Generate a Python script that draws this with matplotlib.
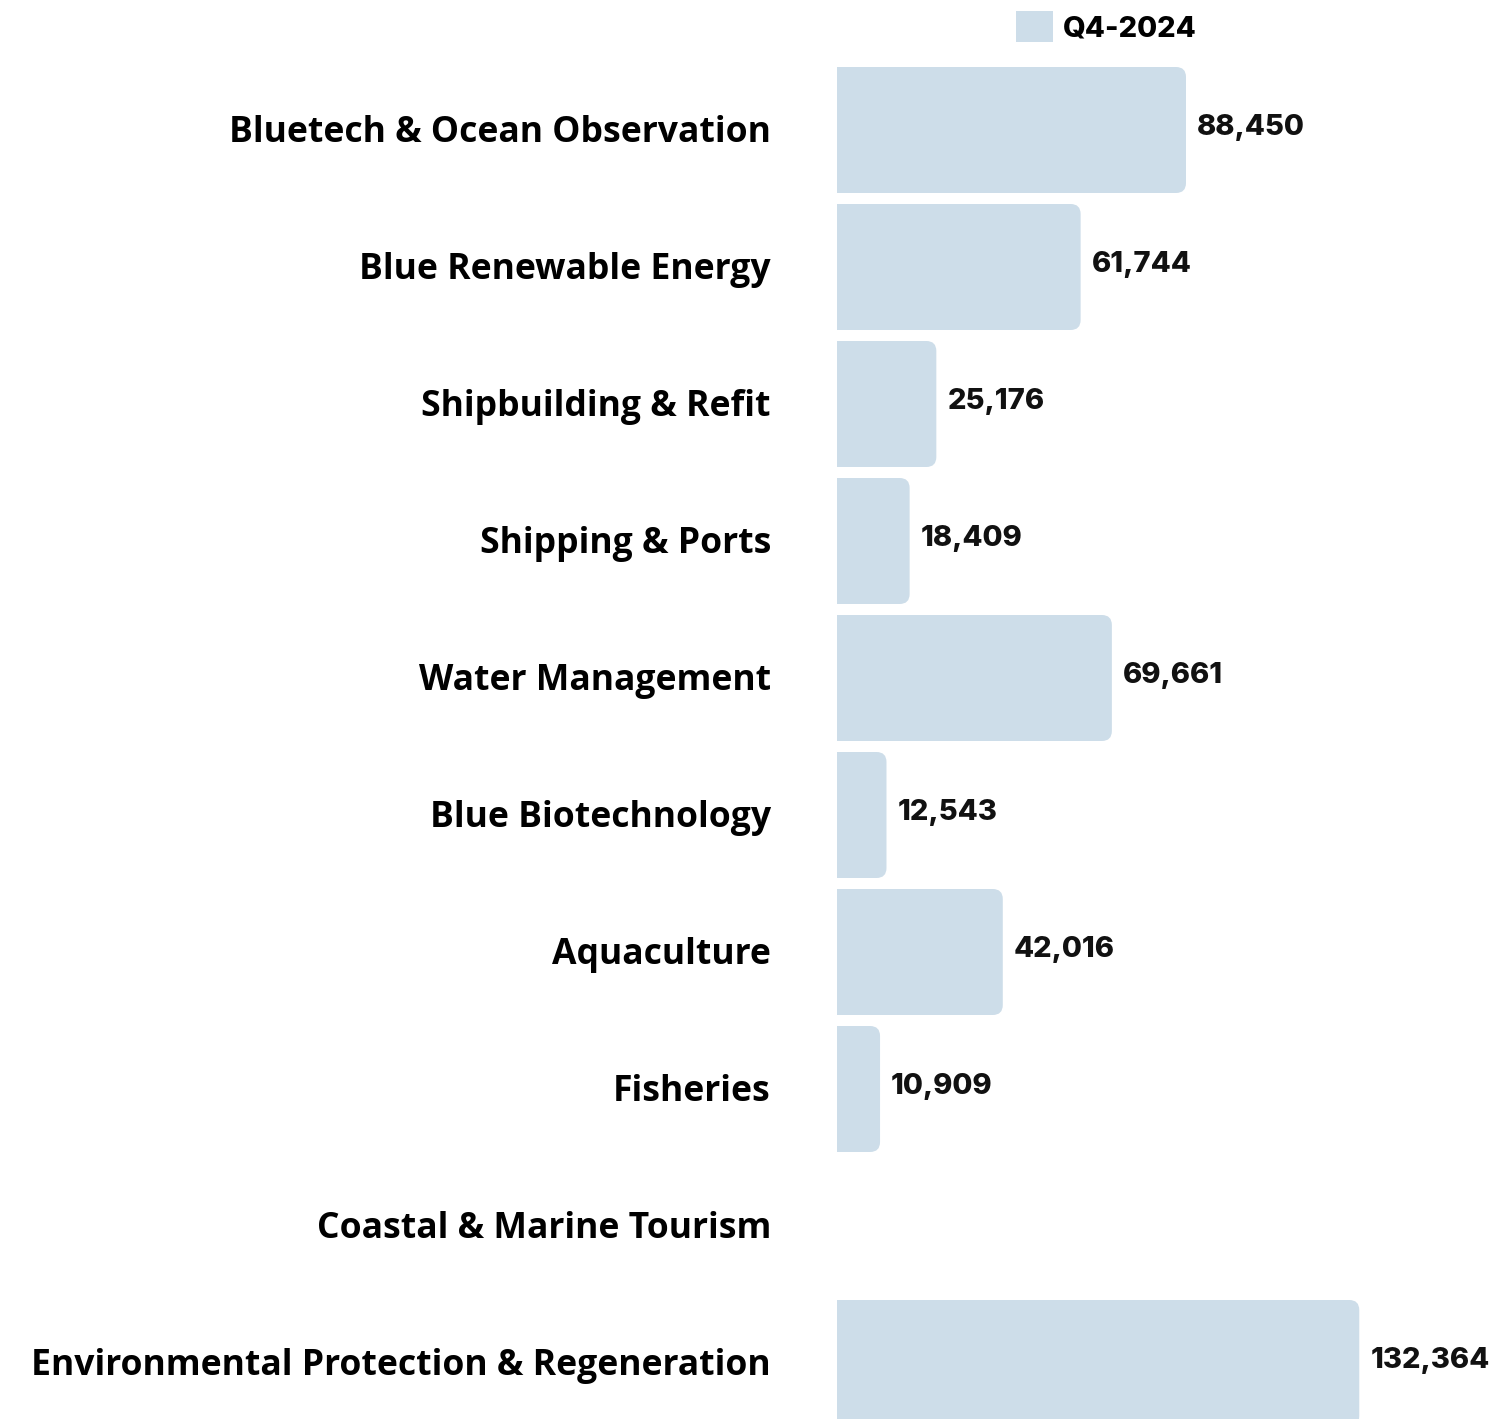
import matplotlib
matplotlib.use("Agg")
import matplotlib.pyplot as plt
from matplotlib.patches import FancyBboxPatch, Rectangle, Patch

categories = [
    "Bluetech & Ocean Observation",
    "Blue Renewable Energy",
    "Shipbuilding & Refit",
    "Shipping & Ports",
    "Water Management",
    "Blue Biotechnology",
    "Aquaculture",
    "Fisheries",
    "Coastal & Marine Tourism",
    "Environmental Protection & Regeneration",
]
values = [88450, 61744, 25176, 18409, 69661, 12543, 42016, 10909, None, 132364]
series_name = "Q4-2024"

BAR_COLOR = "#cddde9"
W, H, DPI = 1506, 1419, 100
fig = plt.figure(figsize=(W / DPI, H / DPI), dpi=DPI)
fig.patch.set_facecolor("white")

ax_left = 837 / W
ax = fig.add_axes([ax_left, 0, 1 - ax_left, 1])
px_per_unit = 349 / 88450
xmax = (W - 837) / px_per_unit
ax.set_xlim(0, xmax)
ax.set_ylim((H - 130) / 137, -130 / 137)
ax.axis("off")

bar_h = 126 / 137
ypos = list(range(len(categories)))
plot_vals = [v if v is not None else 0 for v in values]
bars = ax.barh(ypos, plot_vals, height=bar_h, color=BAR_COLOR)

r_px = 10
r_x = r_px / px_per_unit
r_y = r_px / 137
for b, v in zip(bars, values):
    b.set_visible(False)
    if not v:
        continue
    x0, y0 = b.get_x(), b.get_y()
    w, h = b.get_width(), b.get_height()
    p = FancyBboxPatch((x0, y0), w, h,
                       boxstyle=f"round,pad=0,rounding_size={r_x}",
                       mutation_aspect=r_y / r_x,
                       facecolor=BAR_COLOR, edgecolor="none", clip_on=False)
    ax.add_patch(p)
    ax.add_patch(Rectangle((x0, y0), min(w, 2 * r_x), h,
                           facecolor=BAR_COLOR, edgecolor="none"))

val_font = ["Inter", "DejaVu Sans"]
for y, v in zip(ypos, values):
    if not v:
        continue
    ax.text(v + 11 / px_per_unit, y - 0.02, f"{v:,}", ha="left", va="center",
            fontsize=21, fontweight=800, family=val_font, color="#111111")

for y, c in zip(ypos, categories):
    ax.text(-66 / px_per_unit, y + 0.02, c, ha="right", va="center",
            fontsize=25.6, fontweight="bold", family=["Open Sans", "DejaVu Sans"],
            color="black", clip_on=False)

leg = fig.legend(handles=[Patch(facecolor=BAR_COLOR, edgecolor="none", label=series_name)],
                 loc="upper left", bbox_to_anchor=(996 / W, 1 + 9 / H),
                 frameon=False, handlelength=1.25, handleheight=1.25,
                 handletextpad=0.35, borderpad=0.2,
                 prop={"family": val_font, "weight": 800, "size": 21})

fig.savefig("out.png", dpi=DPI, facecolor="white")
